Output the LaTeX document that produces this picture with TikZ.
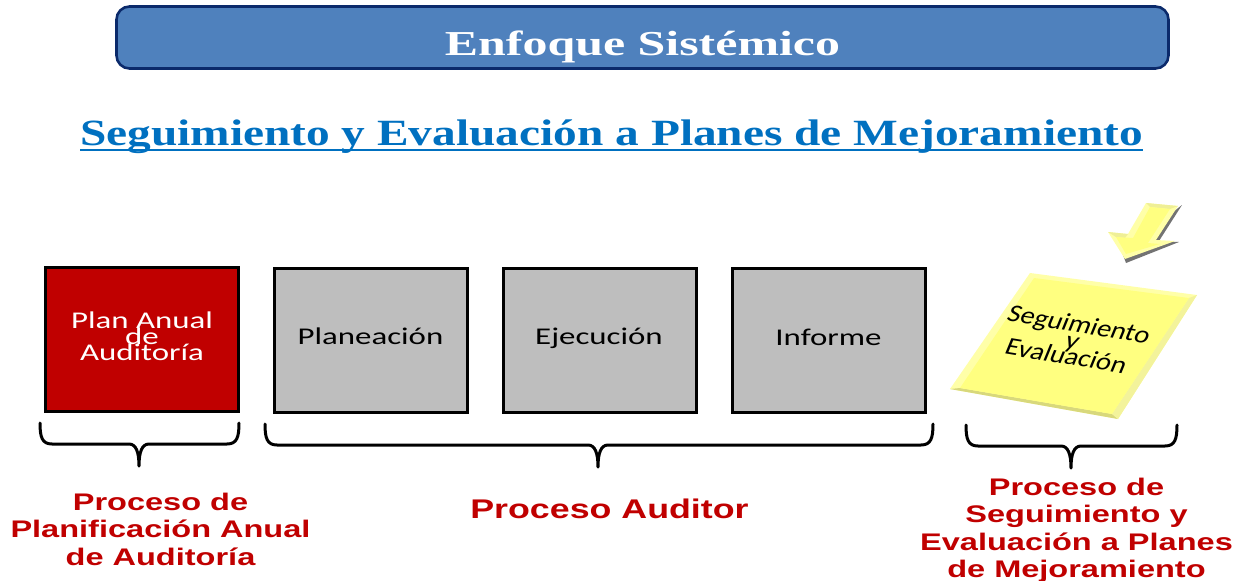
\documentclass[tikz,border=0pt]{standalone}
\usepackage{fontspec}
\setmainfont{Liberation Serif}
\newfontfamily\arialf{Liberation Sans}
\newfontfamily\calibf{Carlito}
\usetikzlibrary{calc}
\newcommand{\tightlines}{\setlength{\lineskiplimit}{-50pt}}
\definecolor{bannerblue}{HTML}{4F81BD}
\definecolor{bannerline}{HTML}{0B2A6B}
\definecolor{titleblue}{HTML}{0070C0}
\definecolor{redbox}{HTML}{C00000}
\definecolor{greybox}{HTML}{BEBEBE}
\definecolor{noteyellow}{HTML}{FFFF80}
\definecolor{notelight}{HTML}{FFFFA8}
\definecolor{notedark}{HTML}{D8D87C}
\tikzset{
  x=1pt,y=-1pt,
  procbox/.style={draw=black,line width=3pt,fill=greybox,minimum width=193pt,minimum height=144pt,inner sep=0pt},
  boxlabel/.style={font=\calibf\fontsize{24}{16}\selectfont\tightlines,align=center,text=black,xscale=1.37,transform shape},
  proclabel/.style={font=\arialf\bfseries\fontsize{24}{27.5}\selectfont,align=center,text=redbox,xscale=1.355,transform shape},
  bracepath/.style={draw=black,line width=3pt,line cap=round,line join=round}
}
\newcommand{\bracefrom}[5]{% left right tipx top name
  \coordinate (#5l) at (#1,#4);
  \coordinate (#5r) at (#2,#4);
  \coordinate (#5t) at (#3,#4+43);
  \draw[bracepath] (#5l) .. controls ($(#5l)+(0,14)$) and ($(#5l)+(2,21)$) .. ($(#5l)+(12,21)$)
    -- ($(#5t)+(-10,-22)$) .. controls ($(#5t)+(-3,-22)$) and ($(#5t)+(0,-14)$) .. (#5t)
    .. controls ($(#5t)+(0,-14)$) and ($(#5t)+(3,-22)$) .. ($(#5t)+(10,-22)$)
    -- ($(#5r)+(-12,21)$) .. controls ($(#5r)+(-2,21)$) and ($(#5r)+(0,14)$) .. (#5r);
}
\begin{document}
\begin{tikzpicture}
\useasboundingbox (0,0) rectangle (1243,581);
% banner
\node[draw=bannerline,line width=2.6pt,fill=bannerblue,rounded corners=13pt,minimum width=1052pt,minimum height=62pt,inner sep=0pt] (banner) at (642.5,37.5) {};
\node[font=\bfseries\fontsize{35}{40}\selectfont,text=white,xscale=1.426,transform shape,anchor=base,inner sep=0pt] (bannertext) at (642.5,55) {Enfoque Sistémico};
% title
\node[font=\bfseries\fontsize{37}{40}\selectfont,text=titleblue,xscale=1.28,transform shape,inner sep=0pt,anchor=base] (title) at (611.5,145) {Seguimiento y Evaluación a Planes de Mejoramiento};
\fill[titleblue] (80,148.5) rectangle (1143,151);
% boxes
\node[procbox,fill=redbox] (plan) at (141.5,339) {};
\node[procbox] (planeacion) at (370.5,340) {};
\node[procbox] (ejecucion) at (599.5,340.5) {};
\node[procbox] (informe) at (828.5,340) {};
\node[boxlabel,text=white] (plantext) at (142,336.5) {Plan Anual\\de\\Auditoría};
\node[boxlabel] (t1) at (370.5,336.5) {Planeación};
\node[boxlabel] (t2) at (599,338) {Ejecución};
\node[boxlabel] (t3) at (828.5,337.5) {Informe};
% note
\fill[notelight] (1030,273) -- (1197,295) -- (1118,419) -- (950,389) -- cycle;
\fill[notedark] (950,389) -- (1118,419) -- (1112,414) -- (960,388) -- cycle;
\fill[notelight!70!notedark] (1118,419) -- (1197,295) -- (1189,298) -- (1112,414) -- cycle;
\fill[noteyellow] (1034,278) -- (1189,298) -- (1112,414) -- (960,388) -- cycle;
\node[font=\calibf\fontsize{24}{16}\selectfont\tightlines,align=center,text=black,xslant=0.25,rotate=-9,xscale=1.22,transform shape] (notetext) at (1073,340) {Seguimiento\\y\\Evaluación};
% arrow
\fill[black!55] (1182,205) -- (1159,241) -- (1179,242) -- (1126,263) -- (1120,247) -- (1150,230) -- cycle;
\fill[notelight] (1146,203) -- (1178,206) -- (1156,240) -- (1175,241) -- (1125,259) -- (1108,232) -- (1128,234) -- cycle;
\fill[notelight!60!notedark] (1146,203) -- (1178,206) -- (1170,209) -- (1150,207) -- cycle;
\fill[notelight!60!notedark] (1108,232) -- (1128,234) -- (1125,238) -- (1116,237) -- cycle;
\fill[noteyellow] (1150,207) -- (1170,209) -- (1148,243) -- (1160,244) -- (1126,254) -- (1116,237) -- (1133,238) -- cycle;
% braces
\bracefrom{40}{239}{139}{423}{ba}
\bracefrom{265}{933}{598}{424}{bb}
\bracefrom{966}{1177}{1071}{425}{bc}
% process labels
\node[proclabel] (p1) at (160.5,529) {Proceso de\\Planificación Anual\\de Auditoría};
\node[proclabel,font=\arialf\bfseries\fontsize{27}{30}\selectfont,xscale=0.978] (p2) at (609.5,508.5) {Proceso Auditor};
\node[proclabel] (p3) at (1076.5,530.5) {Proceso de\\Seguimiento y\\Evaluación a Planes\\de Mejoramiento};
\end{tikzpicture}
\end{document}
